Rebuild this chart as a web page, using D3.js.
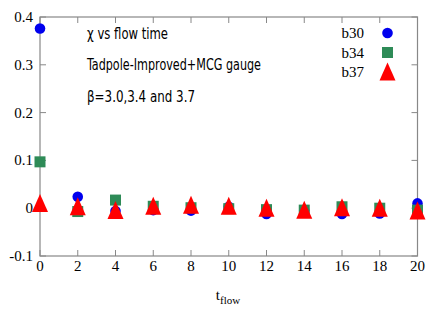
<!DOCTYPE html>
<html><head><meta charset="utf-8">
<script src="https://cdn.jsdelivr.net/npm/d3@7"></script>
<style>body{margin:0;background:#fff}svg{display:block}</style>
</head><body>
<script>
const tflow = [0,2,4,6,8,10,12,14,16,18,20];
const b30 = [0.376,0.024,-0.006,-0.004,-0.005,0.003,-0.012,-0.005,-0.012,-0.011,0.010];
const b34 = [0.097,-0.007,0.017,0.004,0.001,-0.001,-0.003,-0.004,0.003,0.000,-0.004];
const b37 = [0.011,0.004,-0.004,0.005,0.007,0.005,0.001,-0.003,0.002,0.001,-0.005];
const xTicks = [0,2,4,6,8,10,12,14,16,18,20];
const yTicks = [-0.1,0,0.1,0.2,0.3,0.4];
const yTickLabels = ["-0.1","0","0.1","0.2","0.3","0.4"];
const notes = ["χ vs flow time","Tadpole-Improved+MCG gauge","β=3.0,3.4 and 3.7"];
const seriesNames = ["b30","b34","b37"];

const W=436,H=327;
const svg=d3.select("body").append("svg").attr("width",W).attr("height",H);
const L=40,R=417.5,T=17,B=256;
const x=d3.scaleLinear().domain([0,20]).range([L,R]);
const y=d3.scaleLinear().domain([-0.1,0.4]).range([B,T]);
const grey="#888";
const serif="'Liberation Serif','Times New Roman',serif";

// ticks (mirrored, inward)
const tl=6;
const g=svg.append("g");
xTicks.forEach(v=>{
  g.append("line").attr("x1",x(v)).attr("x2",x(v)).attr("y1",B).attr("y2",B-tl).attr("stroke",grey);
  g.append("line").attr("x1",x(v)).attr("x2",x(v)).attr("y1",T).attr("y2",T+tl).attr("stroke",grey);
});
yTicks.forEach(v=>{
  g.append("line").attr("x1",L).attr("x2",L+tl).attr("y1",y(v)).attr("y2",y(v)).attr("stroke",grey);
  g.append("line").attr("x1",R).attr("x2",R-tl).attr("y1",y(v)).attr("y2",y(v)).attr("stroke",grey);
});
svg.append("rect").attr("x",L).attr("y",T).attr("width",R-L).attr("height",B-T)
  .attr("fill","none").attr("stroke",grey).attr("stroke-width",1.2);

// tick labels
xTicks.forEach(v=>{
  svg.append("text").attr("x",x(v)).attr("y",B+15).attr("text-anchor","middle")
    .attr("font-family",serif).attr("font-size",15).attr("fill","#000").text(v);
});
yTicks.forEach((v,i)=>{
  svg.append("text").attr("x",L-7).attr("y",y(v)+5).attr("text-anchor","end")
    .attr("font-family",serif).attr("font-size",15).attr("fill","#000").text(yTickLabels[i]);
});
// axis title
const xt=svg.append("text").attr("x",228).attr("y",300).attr("text-anchor","middle")
  .attr("font-family",serif).attr("font-size",15).attr("fill","#000");
xt.append("tspan").text("t");
xt.append("tspan").attr("dy",4).attr("font-size",11).text("flow");

// annotation text
const sans="'DejaVu Sans Condensed','DejaVu Sans',sans-serif";
const noteY=[39,70,101.5], noteW=[81,174,108];
notes.forEach((t,i)=>{
  svg.append("text").attr("x",87).attr("y",noteY[i]).attr("font-family",sans).attr("font-size",15)
    .attr("textLength",noteW[i]).attr("lengthAdjust","spacingAndGlyphs")
    .attr("fill","#000").text(t);
});

// markers
const circ=d3.symbol().type(d3.symbolCircle).size(Math.PI*5.3*5.3);
const sq=d3.symbol().type(d3.symbolSquare).size(11*11);
const tri=(cx,cy)=>{const w=16,h=18;return `M${cx},${cy-h/2}L${cx+w/2},${cy+h/2}L${cx-w/2},${cy+h/2}Z`;};

svg.append("g").selectAll("path").data(tflow).join("path")
  .attr("transform",(d,i)=>`translate(${x(d)},${y(b30[i])})`).attr("d",circ).attr("fill","#0000ee");
svg.append("g").selectAll("path").data(tflow).join("path")
  .attr("transform",(d,i)=>`translate(${x(d)},${y(b34[i])})`).attr("d",sq).attr("fill","#2e8b57");
svg.append("g").selectAll("path").data(tflow).join("path")
  .attr("d",(d,i)=>tri(x(d),y(b37[i]))).attr("fill","#ff0000");

// legend
const legY=[33,52.5,71.5], legK=["c","s","t"];
seriesNames.forEach((name,i)=>{
  svg.append("text").attr("x",364).attr("y",legY[i]+5).attr("text-anchor","end")
    .attr("font-family",serif).attr("font-size",15).attr("fill","#000").text(name);
  const lx=387.5, ly=legY[i];
  if(legK[i]==="c") svg.append("path").attr("transform",`translate(${lx},${ly})`).attr("d",circ).attr("fill","#0000ee");
  else if(legK[i]==="s") svg.append("path").attr("transform",`translate(${lx},${ly})`).attr("d",sq).attr("fill","#2e8b57");
  else svg.append("path").attr("d",tri(lx,ly)).attr("fill","#ff0000");
});
</script>
</body></html>
